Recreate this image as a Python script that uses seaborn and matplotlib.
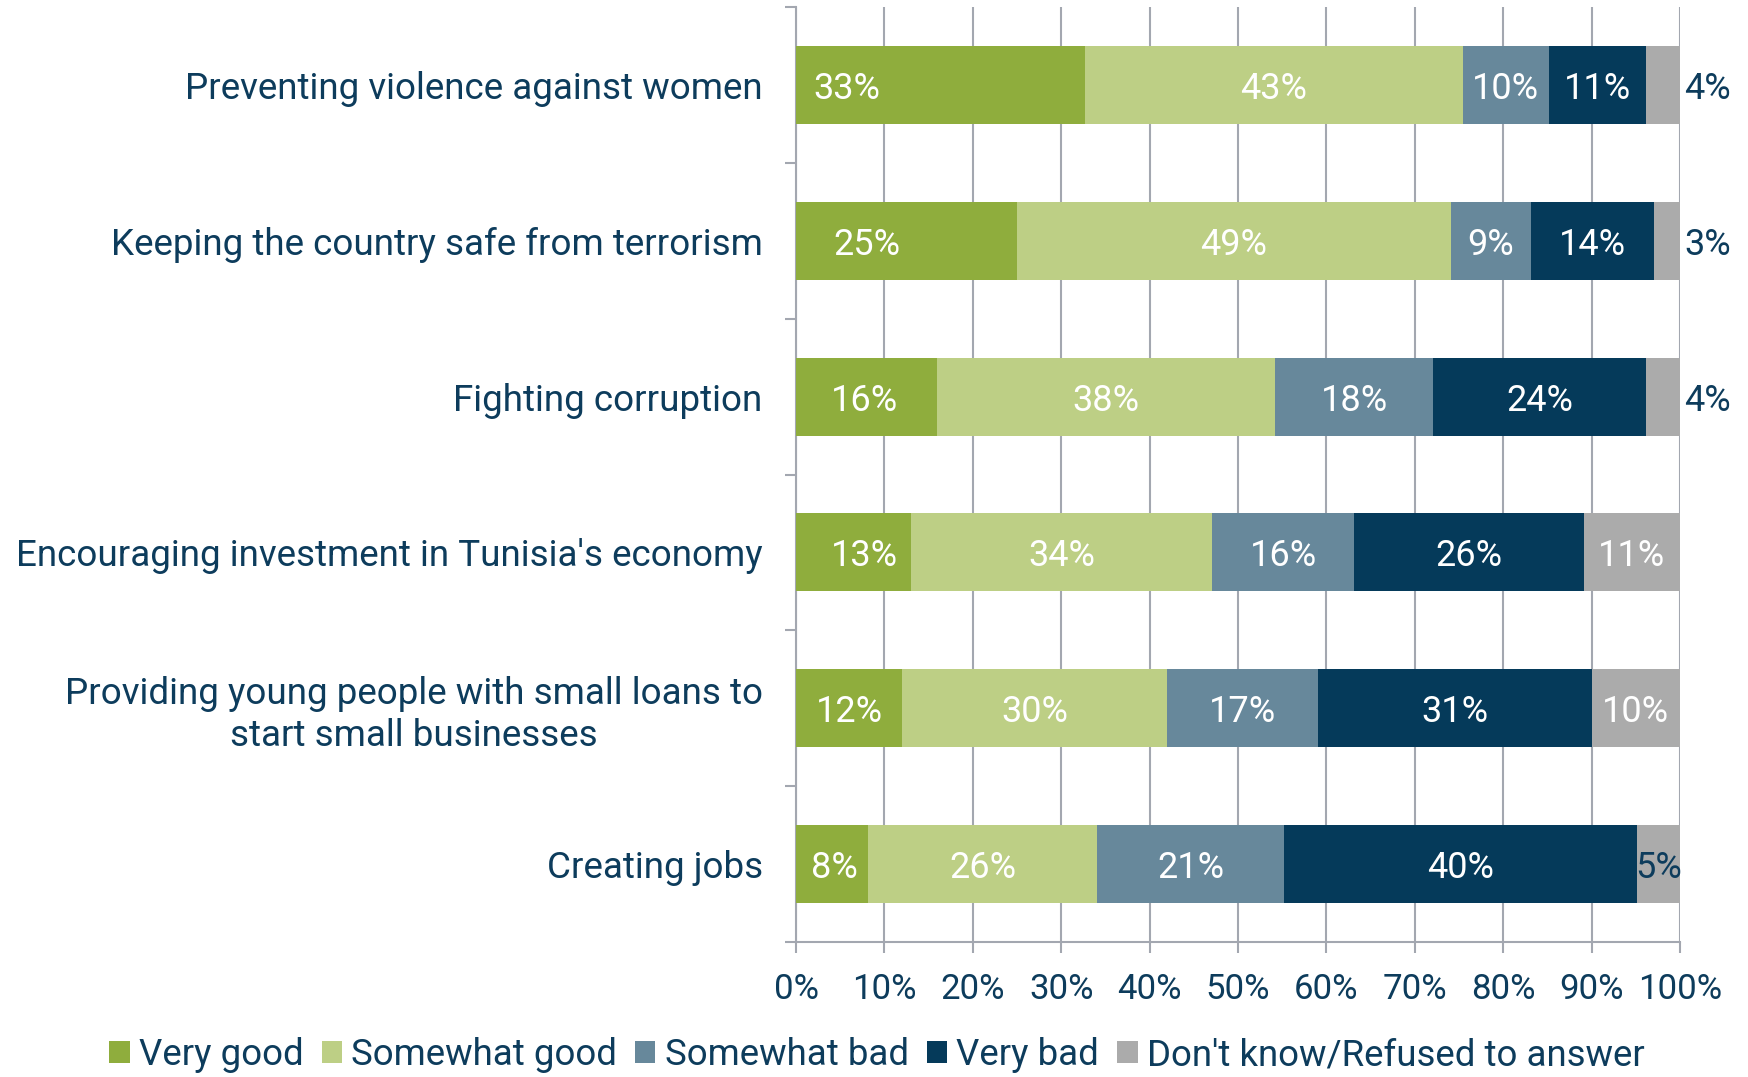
import matplotlib
matplotlib.use("Agg")
import matplotlib.pyplot as plt
import seaborn as sns
import pandas as pd
import numpy as np
from matplotlib.ticker import FixedLocator, PercentFormatter
from matplotlib.patches import Patch

categories = [
    "Preventing violence against women",
    "Keeping the country safe from terrorism",
    "Fighting corruption",
    "Encouraging investment in Tunisia's economy",
    "Providing young people with small loans to\nstart small businesses",
    "Creating jobs",
]
series = ["Very good", "Somewhat good", "Somewhat bad", "Very bad", "Don't know/Refused to answer"]
very_good = [32.7, 25.0, 16.0, 13.0, 12.0, 8.1]
somewhat_good = [42.7, 49.1, 38.2, 34.1, 30.0, 26.0]
somewhat_bad = [9.8, 9.0, 17.9, 16.0, 17.1, 21.1]
very_bad = [10.9, 14.0, 24.0, 26.0, 30.9, 39.9]
dont_know = [3.9, 2.9, 3.9, 10.9, 10.0, 4.9]
labels = [
    ["33%", "43%", "10%", "11%", "4%"],
    ["25%", "49%", "9%", "14%", "3%"],
    ["16%", "38%", "18%", "24%", "4%"],
    ["13%", "34%", "16%", "26%", "11%"],
    ["12%", "30%", "17%", "31%", "10%"],
    ["8%", "26%", "21%", "40%", "5%"],
]
# label centres of the first ("Very good") segment, as placed in the original
first_label_x = [5.7, 8.0, 7.7, 7.7, 6.1, 4.4]
colors = ["#8fad3d", "#bdcf85", "#67889b", "#053a5a", "#ababab"]
TEXT = "#0d3c5c"
GRID = "#a3a7b0"
NUMFONT = ["Roboto", "DejaVu Sans"]

sns.set_theme(style="white")
plt.rcParams["font.family"] = ["Roboto", "DejaVu Sans"]

vals = np.array([very_good, somewhat_good, somewhat_bad, very_bad, dont_know]).T
cum = np.cumsum(vals, axis=1)

fig = plt.figure(figsize=(17.48, 10.77), dpi=100)
ax = fig.add_axes([796 / 1748, 1 - 942 / 1077, (1680 - 796) / 1748, (942 - 7) / 1077])

for j in range(len(series) - 1, -1, -1):
    df = pd.DataFrame({"cat": categories, "value": cum[:, j]})
    sns.barplot(data=df, y="cat", x="value", orient="h", color=colors[j],
                width=0.5, saturation=1, linewidth=0, ax=ax, zorder=3, order=categories)

ax.set_xlim(0, 100)
ax.set_ylim(5.5, -0.5)
ax.set_xlabel("")
ax.set_ylabel("")

ax.xaxis.set_major_locator(FixedLocator(np.arange(0, 101, 10)))
ax.xaxis.set_major_formatter(PercentFormatter(decimals=0))
ax.grid(axis="x", color=GRID, linewidth=1.5, zorder=0)
ax.grid(axis="y", visible=False)
ax.set_axisbelow(True)

for s in ["top", "right"]:
    ax.spines[s].set_visible(False)
for s in ["left", "bottom"]:
    ax.spines[s].set_color(GRID)
    ax.spines[s].set_linewidth(1.5)

ax.tick_params(axis="x", which="major", length=8, width=1.5, color=GRID, direction="out",
               labelsize=25, labelcolor=TEXT, pad=14, bottom=True)
ax.yaxis.set_minor_locator(FixedLocator(np.arange(-0.5, 6, 1)))
ax.tick_params(axis="y", which="minor", length=8, width=1.5, color=GRID, left=True)
ax.tick_params(axis="y", which="major", length=0, labelsize=26.5, labelcolor=TEXT, pad=24)
for t in ax.get_yticklabels():
    t.set_horizontalalignment("right")
    t.set_multialignment("center")
    t.set_linespacing(1.2)

for i in range(len(categories)):
    for j in range(len(series)):
        start = cum[i, j] - vals[i, j]
        center = start + vals[i, j] / 2
        if j == 0:
            center = first_label_x[i]
        if j == 4 and i < 3:
            ax.text(100.5, i, labels[i][j], ha="left", va="center_baseline", color=TEXT,
                    fontsize=26, fontfamily=NUMFONT, zorder=5, clip_on=False)
        else:
            col = TEXT if (j == 4 and i == 5) else "white"
            ax.text(center, i, labels[i][j], ha="center", va="center_baseline", color=col,
                    fontsize=26, fontfamily=NUMFONT, zorder=5)

handles = [Patch(facecolor=c, edgecolor="none") for c in colors]
fig.legend(handles, series, loc="center", bbox_to_anchor=(877 / 1748, 1 - 1055 / 1077),
           ncol=5, frameon=False, fontsize=26.4, labelcolor=TEXT, handlelength=0.55,
           handleheight=0.55, handletextpad=0.25, columnspacing=0.5, borderpad=0)

fig.savefig("out.png", dpi=100)
